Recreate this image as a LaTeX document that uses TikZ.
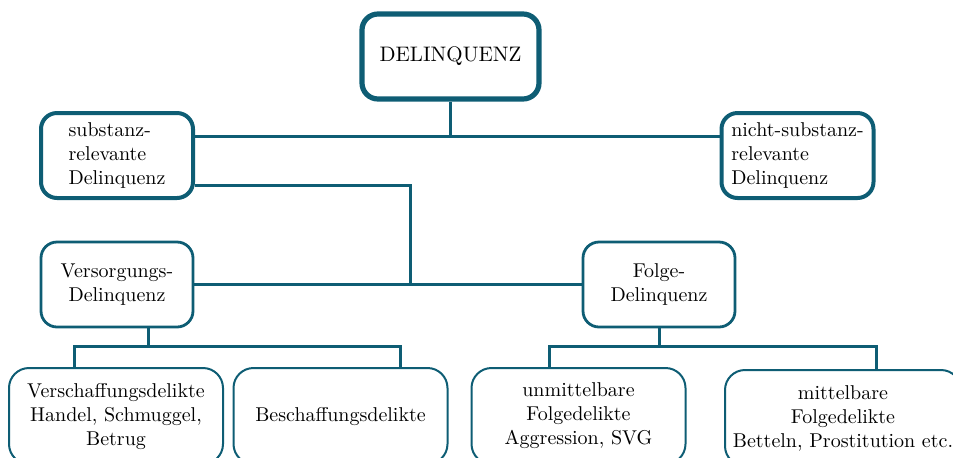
\documentclass[tikz,border=0pt]{standalone}
\usepackage{tikz}
\usetikzlibrary{positioning}
\definecolor{petrol}{RGB}{14,93,116}

\begin{document}
\begin{tikzpicture}[x=0.5pt, y=-0.5pt,
    box/.style={draw=petrol, fill=white, rounded corners=8pt, line width=1.4pt, align=center,
      inner sep=2pt, minimum width=76pt, minimum height=42.5pt, font=\fontsize{10}{12}\selectfont},
    mainbox/.style={box, line width=2.6pt, minimum width=88.5pt, font=\fontsize{10.5}{12}\selectfont},
    sidebox/.style={box, line width=2pt, align=left},
    leafbox/.style={box, line width=1pt, rounded corners=10pt, minimum width=107pt, minimum height=48pt},
    link/.style={draw=petrol, line width=1.5pt}]
  \useasboundingbox (0,0) rectangle (953,457);

  % Knoten
  \node[mainbox] (delinq) at (450.5,56.5) {DELINQUENZ};
  \node[sidebox] (sub) at (117,155.5) {substanz-\\relevante\\Delinquenz};
  \node[sidebox] (nsub) at (797.5,155.5) {nicht-substanz-\\relevante\\Delinquenz};
  \node[box] (vers) at (117,284.5) {Versorgungs-\\Delinquenz};
  \node[box] (folge) at (659,284.5) {Folge-\\Delinquenz};
  \node[leafbox] (verschaff) at (116,416) {Verschaffungsdelikte\\Handel, Schmuggel,\\Betrug};
  \node[leafbox] (beschaff) at (340.5,416) {Beschaffungsdelikte};
  \node[leafbox] (unmittel) at (578.5,416) {unmittelbare\\Folgedelikte\\Aggression, SVG};
  \node[leafbox, minimum width=118pt] (mittel) at (843,418) {mittelbare\\Folgedelikte\\Betteln, Prostitution etc.};

  % Verbindungen
  \coordinate (hub1) at (450.5,136);
  \draw[link] (delinq.south) -- (hub1);
  \draw[link] (sub.east |- hub1) -- (nsub.west |- hub1);

  \coordinate (knee) at (410,185);
  \coordinate (hub2) at (410,284.5);
  \draw[link] (sub.east |- knee) -- (knee) -- (hub2);
  \draw[link] (vers.east) -- (folge.west);

  \coordinate (v1) at (148,346);
  \coordinate (bl) at (74,346);
  \coordinate (br) at (400,346);
  \draw[link] (vers.south -| v1) -- (v1);
  \draw[link] (verschaff.north -| bl) -- (bl) -- (br) -- (beschaff.north -| br);

  \coordinate (f1) at (659,346);
  \coordinate (fl) at (549,346);
  \coordinate (fr) at (876,346);
  \draw[link] (folge.south) -- (f1);
  \draw[link] (unmittel.north -| fl) -- (fl) -- (fr) -- (mittel.north -| fr);
\end{tikzpicture}
\end{document}
